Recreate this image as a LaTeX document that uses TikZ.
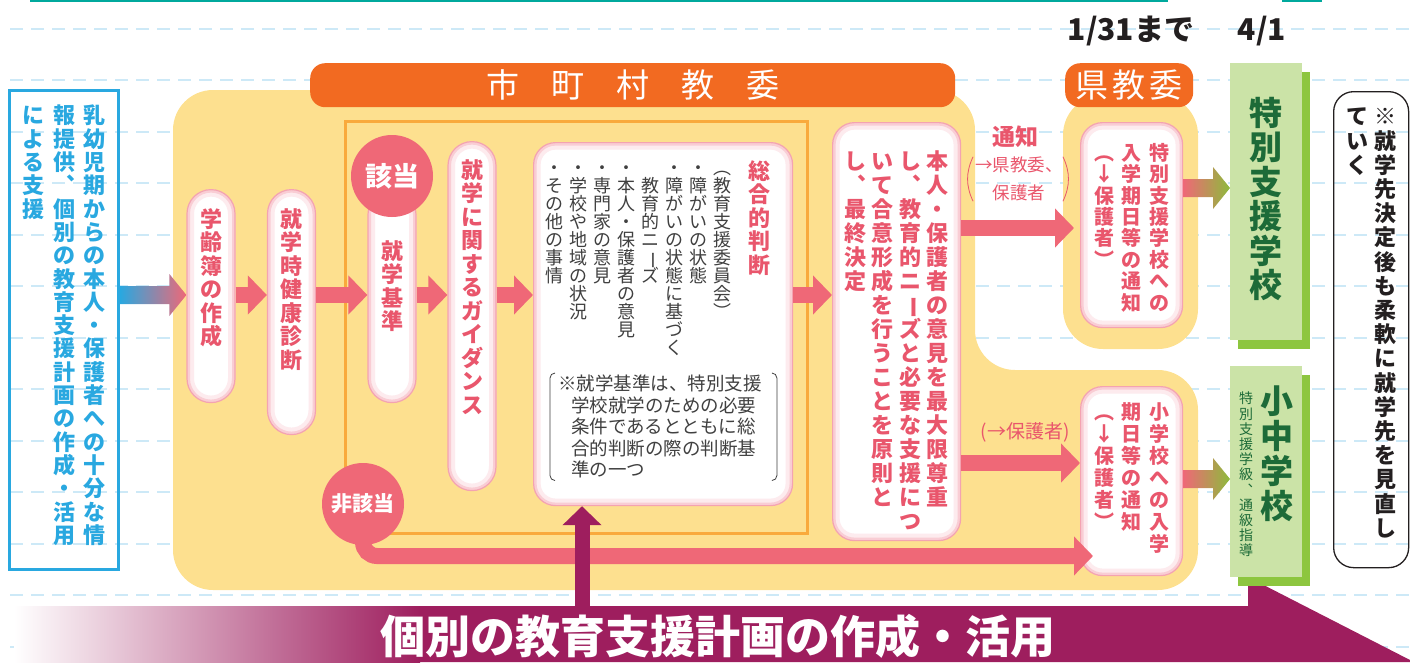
\documentclass[tikz,border=0pt]{standalone}
\usepackage{fontspec}
\usepackage{graphicx}
\setmainfont{Noto Sans CJK JP}
\usetikzlibrary{positioning, arrows.meta, calc}

\definecolor{yel}{HTML}{FDE08F}
\definecolor{orng}{HTML}{F26A21}
\definecolor{orline}{HTML}{F9AA3C}
\definecolor{txtpink}{HTML}{E9566C}
\definecolor{arrpink}{HTML}{EF6877}
\definecolor{glowedge}{HTML}{F4A3B1}
\definecolor{glowmid}{HTML}{F9CDD4}
\definecolor{glowsoft}{HTML}{FDEBEE}
\definecolor{blu}{HTML}{29A8E0}
\definecolor{purp}{HTML}{9E1E5E}
\definecolor{greenlight}{HTML}{CBE3A7}
\definecolor{greendark}{HTML}{8DC63F}
\definecolor{greentxt}{HTML}{1D6B38}
\definecolor{arrgreen}{HTML}{8DBB3C}
\definecolor{dashblue}{HTML}{CDE9F7}
\definecolor{tealline}{HTML}{00A99D}
\definecolor{graytxt}{HTML}{404040}
\definecolor{inkblack}{HTML}{231F20}

% tategaki: one glyph per line
\def\tatechars#1{\ifx#1\relax\else\hbox to 1em{\hss#1\hss}\expandafter\tatechars\fi}
\newcommand\tatecol[1]{\vtop{\lineskiplimit=-\maxdimen\tatechars#1\relax}}
\newcommand\tatesp{\phantom{国}}
\newcommand\tatebar{\rotatebox[origin=c]{-90}{ー}}

\tikzset{
  glow/.style={fill=white, draw=glowedge, line width=1.2pt, rounded corners=#1,
    path picture={
      \draw[glowsoft, line width=14pt, rounded corners=#1] (path picture bounding box.south west) rectangle (path picture bounding box.north east);
      \draw[glowmid, line width=6pt, rounded corners=#1] (path picture bounding box.south west) rectangle (path picture bounding box.north east);
    }},
}

% gradient block arrow, from #2 to #3 (same height)
\newcommand\garrow[3][]{\shade[#1] ($(#2)+(0,-9)$) -- ($(#3)+(-17,-9)$) -- ($(#3)+(-17,-21)$) -- (#3) -- ($(#3)+(-17,21)$) -- ($(#3)+(-17,9)$) -- ($(#2)+(0,9)$) -- cycle;}

\begin{document}
\begin{tikzpicture}[x=1pt, y=-1pt,
  pill/.style={glow=24pt, minimum width=48pt, inner sep=0pt, anchor=north},
  pinkbox/.style={glow=22pt, inner sep=0pt, anchor=north west},
  maru/.style={circle, fill=arrpink, text=white, minimum size=82pt, inner sep=0pt, font=\bfseries\fontsize{21}{21}\selectfont},
  banner/.style={fill=orng, rounded corners=15pt, text=white, inner sep=0pt, anchor=north west, minimum height=44pt, font=\fontsize{33}{33}\selectfont},
  greenbox/.style={fill=greenlight, minimum width=72pt, anchor=north west, inner sep=0pt, preaction={fill=greendark, transform canvas={shift={(8pt,-9pt)}}}},
  parrow/.style={draw=arrpink, line width=16pt, -{Triangle[length=19pt,width=38pt]}},
  vpink/.style={text=txtpink, inner sep=0pt, anchor=north, font=\bfseries\fontsize{22}{23.5}\selectfont},
  vblue/.style={text=blu, inner sep=0pt, anchor=north, font=\bfseries\fontsize{22}{23.3}\selectfont},
  vgray/.style={text=graytxt, inner sep=0pt, anchor=north, font=\fontsize{18}{18}\selectfont},
  vgreen/.style={text=greentxt, inner sep=0pt, anchor=north, font=\bfseries\fontsize{33}{34.5}\selectfont},
  brk/.style={line width=0.8pt, rounded corners=5pt}]
\useasboundingbox (0,0) rectangle (1410,662);

% ruled background
\foreach \k in {0,...,12}
  \draw[dashblue, line width=2pt, dash pattern=on 13pt off 8pt] (10,{28.5+51.5*\k}) -- (1410,{28.5+51.5*\k});
\draw[tealline, line width=3pt] (30,0.5) -- (1168,0.5);
\draw[tealline, line width=3pt] (1282,0.5) -- (1322,0.5);

% yellow areas
\fill[yel, rounded corners=40pt] (173,90) -- (975,90) -- (975,370) -- (1198,370) -- (1198,590) -- (173,590) -- cycle;
\fill[yel, rounded corners=40pt] (1063,95) rectangle (1198,349);
\draw[orline, line width=3pt] (345,121) rectangle (807,533);

% purple band
\shade[left color=white, right color=purp] (14,606) rectangle (420,662);
\fill[purp] (419,606) -- (1248,606) -- (1248,577) -- (1410,660) -- (1410,662) -- (419,662) -- cycle;

\node[banner, minimum width=645pt] (shichoson) at (310,63) {市\hspace{32pt}町\hspace{32pt}村\hspace{32pt}教\hspace{32pt}委};
\node[banner, minimum width=128pt] (kenkyoi) at (1065,63) {県\hspace{4pt}教\hspace{4pt}委};

\node[draw=blu, line width=3pt, minimum width=109pt, minimum height=479pt, anchor=north west, inner sep=0pt] (nyuyoji) at (8,89) {};
\node[vblue, below=16pt of nyuyoji.north] (nyuyojitxt) {\tatecol{による支援}\hspace{8pt}\tatecol{報提供︑個別の教育支援計画の作成・活用}\hspace{8pt}\tatecol{乳幼児期からの本人・保護者への十分な情}};

% steps
\node[pill, minimum height=213pt] (gakurei) at (211,189) {};
\node[pill, minimum height=245pt] (kenshin) at (291.5,189) {};
\node[pill, minimum height=212pt] (kijun) at (392,190) {};
\node[pill, minimum height=349pt] (guidance) at (472,141) {};
\node[pinkbox, minimum width=259pt, minimum height=363pt] (sogo) at (533,142) {};
\node[pinkbox, minimum width=128pt, minimum height=418pt] (honnin) at (832,122) {};
\node[pinkbox, minimum width=102pt, minimum height=205pt] (tokushien) at (1080,122) {};
\node[pinkbox, minimum width=102pt, minimum height=189pt] (shogaku) at (1080,386) {};

\node[vpink, below=19pt of gakurei.north] (gakureitxt) {\tatecol{学齢簿の作成}};
\node[vpink, below=19pt of kenshin.north] (kenshintxt) {\tatecol{就学時健康診断}};
\node[vpink, below=50pt of kijun.north] (kijuntxt) {\tatecol{就学基準}};
\node[vpink, below=18pt of guidance.north] (guidancetxt) {\tatecol{就学に関するガイダンス}};
\node[vpink, below left=18pt and 23pt of sogo.north east] (sogotitle) {\tatecol{総合的判断}};
\node[vgray, below left=18pt and 61.5pt of sogo.north east] (sogolist) {\tatecol{・その他の事情}\hspace{6pt}\tatecol{・学校や地域の状況}\hspace{6pt}\tatecol{・専門家の意見}\hspace{6pt}\tatecol{・本人・保護者の意見}\hspace{6pt}\tatecol{\tatesp 教育的ニ\tatebar ズ}\hspace{6pt}\tatecol{・障がいの状態に基づく}\hspace{6pt}\tatecol{・障がいの状態}\hspace{6pt}\tatecol{︵教育支援委員会︶}};
\node[text=graytxt, inner sep=0pt, anchor=north west, align=left, font=\fontsize{18.5}{21.5}\selectfont] (kijunnote) at (558,375) {※就学基準は、特別支援\\\hspace*{0.7em}学校就学のための必要\\\hspace*{0.7em}条件であるとともに総\\\hspace*{0.7em}合的判断の際の判断基\\\hspace*{0.7em}準の一つ};
\draw[brk, graytxt] ([xshift=-3pt,yshift=2pt]kijunnote.north west) -| ([xshift=-8pt]kijunnote.west) |- ([xshift=-3pt,yshift=-2pt]kijunnote.south west);
\draw[brk, graytxt] ([xshift=10pt,yshift=2pt]kijunnote.north east) -| ([xshift=15pt]kijunnote.east) |- ([xshift=10pt,yshift=-2pt]kijunnote.south east);
\node[vpink, font=\bfseries\fontsize{22}{24}\selectfont, below=28pt of honnin.north] (honnintxt) {\tatecol{し︑最終決定}\hspace{5.5pt}\tatecol{いて合意形成を行うことを原則と}\hspace{5.5pt}\tatecol{し︑教育的ニ\tatebar ズと必要な支援につ}\hspace{5.5pt}\tatecol{本人・保護者の意見を最大限尊重}};
\node[vpink, font=\bfseries\fontsize{20}{21.4}\selectfont, below=21pt of tokushien.north] (tokushientxt) {\tatecol{︵↓保護者︶}\hspace{7.5pt}\tatecol{入学期日等の通知}\hspace{7.5pt}\tatecol{特別支援学校への}};
\node[vpink, font=\bfseries\fontsize{20}{22}\selectfont, below=16pt of shogaku.north] (shogakutxt) {\tatecol{︵↓保護者︶}\hspace{7.5pt}\tatecol{期日等の通知}\hspace{7.5pt}\tatecol{小学校への入学}};

% arrows
\coordinate (mainrow) at (0,295);
\coordinate (kenrow) at (0,228);
\coordinate (hogorow) at (0,463);
\coordinate (lowrow) at (0,556);
\coordinate (b1) at (nyuyoji.east |- mainrow);
\coordinate (b2) at (gakurei.west |- mainrow);
\garrow[left color=blu, right color=arrpink]{b1}{b2}
\draw[parrow] (gakurei.east |- mainrow) -- (kenshin.west |- mainrow);
\draw[parrow] (kenshin.east |- mainrow) -- (kijun.west |- mainrow);
\draw[parrow] (kijun.east |- mainrow) -- (guidance.west |- mainrow);
\draw[parrow] (guidance.east |- mainrow) -- (sogo.west |- mainrow);
\draw[parrow] (sogo.east |- mainrow) -- (honnin.west |- mainrow);
\draw[parrow] (honnin.east |- kenrow) -- ([xshift=-6pt]tokushien.west |- kenrow);
\draw[parrow] (honnin.east |- hogorow) -- (shogaku.west |- hogorow);
\coordinate (hcenter) at (363,504);
\draw[parrow, rounded corners=14pt] (hcenter) |- ([xshift=13pt]shogaku.west |- lowrow);
\node[maru, font=\bfseries\fontsize{27}{27}\selectfont] (gaito) at (392,176) {該当};
\node[maru] (higaito) at (hcenter) {非該当};

\node[text=txtpink, inner sep=0pt, font=\bfseries\fontsize{23}{23}\selectfont] (tsuchi) at (1015,137) {通知};
\node[text=txtpink, inner sep=0pt, align=center, font=\fontsize{17.5}{28}\selectfont] (tsuchisaki) at (1019,179) {→県教委、\\保護者};
\draw[txtpink, line width=0.8pt] ([xshift=-2pt]tsuchisaki.north west) to[bend right=25] ([xshift=-2pt]tsuchisaki.south west);
\draw[txtpink, line width=0.8pt] (tsuchisaki.north east) to[bend left=25] (tsuchisaki.south east);
\node[text=txtpink, inner sep=0pt, font=\fontsize{19}{19}\selectfont] (hogosha) at (1025,432) {(→保護者)};

% schools
\node[greenbox, minimum height=277pt] (tokushi) at (1230,63) {};
\node[greenbox, minimum height=211pt] (shochu) at (1230,366) {};
\coordinate (r1) at (0,188);
\coordinate (r2) at (0,479);
\coordinate (g1a) at (tokushien.east |- r1);
\coordinate (g1b) at (tokushi.west |- r1);
\coordinate (g2a) at (shogaku.east |- r2);
\coordinate (g2b) at (shochu.west |- r2);
\garrow[left color=arrpink, right color=arrgreen]{g1a}{g1b}
\garrow[left color=arrpink, right color=arrgreen]{g2a}{g2b}
\node[vgreen, below=34pt of tokushi.north] (tokushitxt) {\tatecol{特別支援学校}};
\node[vgreen, font=\bfseries\fontsize{33}{35}\selectfont] (shochutxt) at (1277,386) {\tatecol{小中学校}};
\node[text=greentxt, inner sep=0pt, anchor=north, font=\fontsize{14}{15.2}\selectfont] (gakkyutxt) at (1246,392) {\tatecol{特別支援学級︑通級指導}};

\node[draw=inkblack, line width=1.3pt, rounded corners=20pt, minimum width=75pt, minimum height=476pt, anchor=north west, inner sep=0pt] (minaoshi) at (1333,91) {};
\node[text=inkblack, inner sep=0pt, anchor=north, font=\bfseries\fontsize{22}{24.2}\selectfont, below=17pt of minaoshi.north] (minaoshitxt) {\tatecol{ていく}\hspace{6pt}\tatecol{※就学先決定後も柔軟に就学先を見直し}};

\node[text=inkblack, inner sep=0pt, font=\bfseries\fontsize{30}{30}\selectfont] (shimekiri) at (1131,31) {1/31まで};
\node[text=inkblack, inner sep=0pt, font=\bfseries\fontsize{30}{30}\selectfont] (kaishi) at (1262,31) {4/1};

% plan arrow and band title
\coordinate (bandtop) at (582,607);
\draw[purp, line width=15pt, -{Triangle[length=19pt,width=38pt]}] (bandtop) -- (bandtop |- sogo.south);
\node[text=white, inner sep=0pt, font=\bfseries\fontsize{45}{45}\selectfont] (keikaku) at (718,636) {個別の教育支援計画の作成・活用};
\end{tikzpicture}
\end{document}
